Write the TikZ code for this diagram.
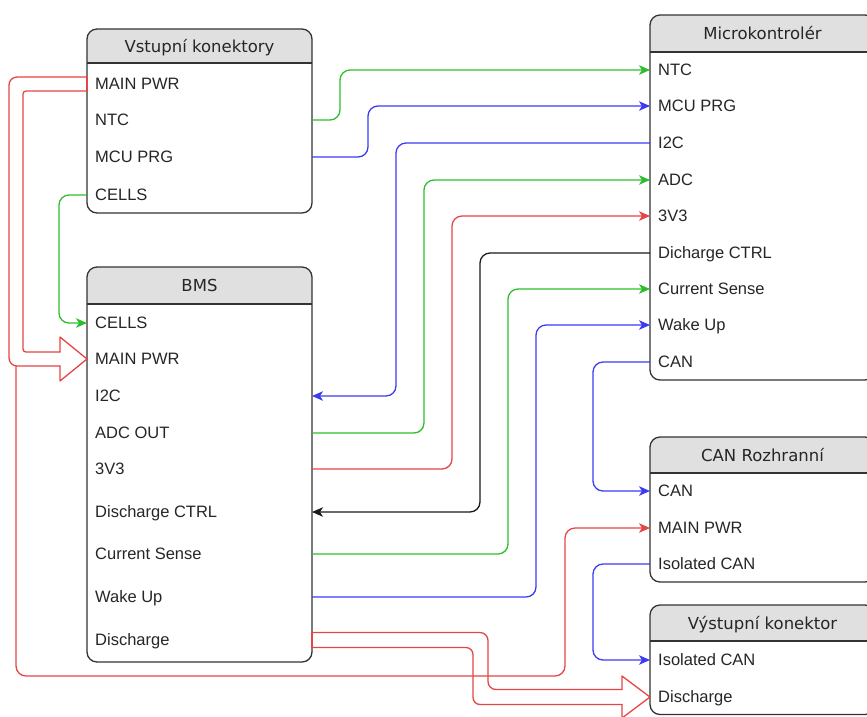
\documentclass[tikz,border=0pt]{standalone}
\usepackage{fontspec}
\setmainfont{Liberation Sans}
\newfontfamily\headfont{DejaVu Sans}
\usetikzlibrary{arrows.meta,calc}

\definecolor{linkred}{HTML}{E64545}
\definecolor{linkgreen}{HTML}{2DBE2D}
\definecolor{linkblue}{HTML}{3B3BF2}
\definecolor{linkblack}{HTML}{1A1A1A}
\definecolor{headgrey}{HTML}{E0E0E0}
\definecolor{framegrey}{HTML}{333333}
\definecolor{textgrey}{HTML}{262626}

% block with a grey title band: name, left x, top y, bottom y, band bottom y, title
\newcommand{\blockbox}[6]{%
  \pgfmathsetmacro{\bxh}{#4-#3}%
  \node[boxarea, minimum height=\bxh pt, anchor=north west] (#1) at (#2,#3) {};
  \fill[white, rounded corners=10pt] (#1.south west) rectangle (#1.north east);
  \begin{scope}
    \clip[rounded corners=10pt] (#1.south west) rectangle (#1.north east);
    \fill[headgrey] (#1.north west) rectangle (#1.east |- 0,#5);
  \end{scope}
  \draw[frame] (#1.west |- 0,#5) -- (#1.east |- 0,#5);
  \draw[frame, rounded corners=10pt] (#1.south west) rectangle (#1.north east);
  \node[title] (#1-title) at ($(#1.north)!0.5!(#1.north |- 0,#5)$) {#6};
}

\begin{document}
\begin{tikzpicture}[x=1pt, y=-1pt,
  boxarea/.style={rectangle, draw=none, minimum width=225pt, inner sep=0pt, outer sep=0pt},
  frame/.style={draw=framegrey, line width=1.3pt},
  title/.style={font=\headfont\fontsize{16.5}{19}\selectfont, text=textgrey, inner sep=0pt, text height=12pt, text depth=0pt},
  rowlabel/.style={font=\fontsize{16.5}{19}\selectfont, text=textgrey, anchor=west, inner sep=0pt, text height=11.8pt, text depth=0pt},
  link/.style={line width=1.3pt, rounded corners=10pt},
  tipped/.style={-{Stealth[length=11pt, width=9.5pt, inset=3pt]}},
  widearrow/.style={draw=linkred, line width=1.3pt, line join=round, line cap=round},
]
\useasboundingbox (0,0) rectangle (867,716);
\clip (0,0) rectangle (867,716);

% ---------- blocks ----------
\blockbox{vk}{87}{29}{213}{63}{Vstupní konektory}
\node[rowlabel] (vk-main)  at (95,84)  {MAIN PWR};
\node[rowlabel] (vk-ntc)   at (95,120) {NTC};
\node[rowlabel] (vk-mcu)   at (95,157) {MCU PRG};
\node[rowlabel] (vk-cells) at (95,195) {CELLS};

\blockbox{bms}{87}{267}{662}{304}{BMS}
\node[rowlabel] (bms-cells) at (95,323) {CELLS};
\node[rowlabel] (bms-main)  at (95,359) {MAIN PWR};
\node[rowlabel] (bms-i2c)   at (95,396) {I2C};
\node[rowlabel] (bms-adc)   at (95,433) {ADC OUT};
\node[rowlabel] (bms-3v3)   at (95,469) {3V3};
\node[rowlabel] (bms-dctrl) at (95,512) {Discharge CTRL};
\node[rowlabel] (bms-cur)   at (95,554) {Current Sense};
\node[rowlabel] (bms-wake)  at (95,597) {Wake Up};
\node[rowlabel] (bms-dchg)  at (95,640) {Discharge};

\blockbox{mc}{650}{15}{380}{52}{Microkontrolér}
\node[rowlabel] (mc-ntc)   at (658,70)  {NTC};
\node[rowlabel] (mc-mcu)   at (658,106) {MCU PRG};
\node[rowlabel] (mc-i2c)   at (658,143) {I2C};
\node[rowlabel] (mc-adc)   at (658,180) {ADC};
\node[rowlabel] (mc-3v3)   at (658,216) {3V3};
\node[rowlabel] (mc-dctrl) at (658,253) {Dicharge CTRL};
\node[rowlabel] (mc-cur)   at (658,289) {Current Sense};
\node[rowlabel] (mc-wake)  at (658,325) {Wake Up};
\node[rowlabel] (mc-can)   at (658,362) {CAN};

\blockbox{cr}{650}{437}{582}{473}{CAN Rozhranní}
\node[rowlabel] (cr-can)  at (658,491) {CAN};
\node[rowlabel] (cr-main) at (658,528) {MAIN PWR};
\node[rowlabel] (cr-iso)  at (658,564) {Isolated CAN};

\blockbox{vy}{650}{605}{714.5}{641}{Výstupní konektor}
\node[rowlabel] (vy-iso)  at (658,660) {Isolated CAN};
\node[rowlabel] (vy-dchg) at (658,697) {Discharge};

% ---------- signal links ----------
\draw[link, tipped, linkgreen] (vk.east |- vk-ntc) -- ++(28,0) |- (mc.west |- mc-ntc);
\draw[link, tipped, linkblue]  (vk.east |- vk-mcu) -- ++(56,0) |- (mc.west |- mc-mcu);
\draw[link, tipped, linkgreen] (vk.west |- vk-cells) -- ++(-28,0) |- (bms.west |- bms-cells);
\draw[link, tipped, linkblue]  (mc.west |- mc-i2c) -- ++(-254,0) |- (bms.east |- bms-i2c);
\draw[link, tipped, linkgreen] (bms.east |- bms-adc) -- ++(112,0) |- (mc.west |- mc-adc);
\draw[link, tipped, linkred]   (bms.east |- bms-3v3) -- ++(140,0) |- (mc.west |- mc-3v3);
\draw[link, tipped, linkblack] (mc.west |- mc-dctrl) -- ++(-170,0) |- (bms.east |- bms-dctrl);
\draw[link, tipped, linkgreen] (bms.east |- bms-cur) -- ++(196,0) |- (mc.west |- mc-cur);
\draw[link, tipped, linkblue]  (bms.east |- bms-wake) -- ++(224,0) |- (mc.west |- mc-wake);
\draw[link, tipped, linkblue]  (mc.west |- mc-can) -- ++(-57,0) |- (cr.west |- cr-can);
\draw[link, tipped, linkblue]  (cr.west |- cr-iso) -- ++(-57,0) |- (vy.west |- vy-iso);

% ---------- wide discharge arrow ----------
\coordinate (d0) at (bms.east |- bms-dchg);
\coordinate (d1) at (vy.west |- vy-dchg);
\fill[white] ($(d0)+(0,-7.5)$) -- ($(d0)+(176,-7.5)$) -- ($(d1)+(-162,-7.5)$)
  -- ($(d1)+(-28,-7.5)$) -- ($(d1)+(-28,-21)$) -- (d1) -- ($(d1)+(-28,21)$)
  -- ($(d1)+(-28,7.5)$) -- ($(d1)+(-177,7.5)$) -- ($(d0)+(161,7.5)$) -- ($(d0)+(0,7.5)$) -- cycle;
\draw[widearrow] ($(d0)+(0,7.5)$) -- ($(d0)+(0,-7.5)$);
\draw[widearrow, rounded corners=8pt] ($(d0)+(0,-7.5)$) -- ($(d0)+(176,-7.5)$) -- ($(d1)+(-162,-7.5)$) -- ($(d1)+(-28,-7.5)$);
\draw[widearrow] ($(d1)+(-28,-7.5)$) -- ($(d1)+(-28,-21)$) -- (d1) -- ($(d1)+(-28,21)$) -- ($(d1)+(-28,7.5)$);
\draw[widearrow, rounded corners=7pt] ($(d1)+(-28,7.5)$) -- ($(d1)+(-177,7.5)$) -- ($(d0)+(161,7.5)$) -- ($(d0)+(0,7.5)$);

% ---------- main power feed to the CAN interface ----------
\coordinate (pwrbus) at (565,676);
\draw[link, tipped, linkred] (vk.west |- vk-main) -- ++(-71,0) |- (pwrbus) |- (cr.west |- cr-main);

% ---------- wide main power arrow ----------
\coordinate (a0) at (vk.west |- vk-main);
\coordinate (a1) at (bms.west |- bms-main);
\fill[white] ($(a0)+(0,-7)$) -- ($(a0)+(-78,-7)$) -- ($(a1)+(-78,7)$) -- ($(a1)+(-27,7)$)
  -- ($(a1)+(-27,22)$) -- (a1) -- ($(a1)+(-27,-22)$) -- ($(a1)+(-27,-7)$)
  -- ($(a1)+(-64,-7)$) -- ($(a0)+(-64,7)$) -- ($(a0)+(0,7)$) -- cycle;
\draw[widearrow] ($(a0)+(0,7)$) -- ($(a0)+(0,-7)$);
\draw[widearrow, rounded corners=8pt] ($(a0)+(0,-7)$) -- ($(a0)+(-78,-7)$) -- ($(a1)+(-78,7)$) -- ($(a1)+(-27,7)$);
\draw[widearrow] ($(a1)+(-27,7)$) -- ($(a1)+(-27,22)$) -- (a1) -- ($(a1)+(-27,-22)$) -- ($(a1)+(-27,-7)$);
\draw[widearrow, rounded corners=3pt] ($(a1)+(-27,-7)$) -- ($(a1)+(-64,-7)$) -- ($(a0)+(-64,7)$) -- ($(a0)+(0,7)$);
\end{tikzpicture}
\end{document}
